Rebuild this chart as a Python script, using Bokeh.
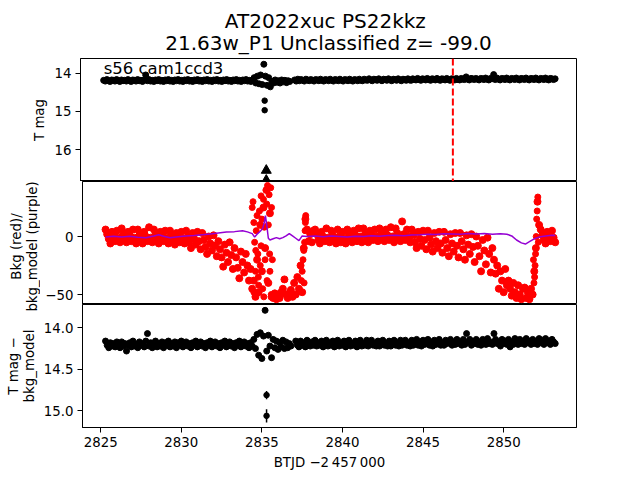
import math
from bokeh.plotting import figure
from bokeh.models import Range1d, FixedTicker, Span, Label, NumeralTickFormatter
from bokeh.layouts import column, row
from bokeh.embed import file_html
from bokeh.resources import INLINE

nan = float("nan")
FONT = "DejaVu Sans"

btjd = [
    2825.3, 2825.4, 2825.5, 2825.6, 2825.7, 2825.8, 2825.9, 2826.0, 2826.1, 2826.2,
    2826.3, 2826.4, 2826.5, 2826.6, 2826.7, 2826.8, 2826.9, 2827.0, 2827.1, 2827.2,
    2827.3, 2827.4, 2827.5, 2827.6, 2827.7, 2827.8, 2827.9, 2828.0, 2828.1, 2828.2,
    2828.3, 2828.4, 2828.5, 2828.6, 2828.7, 2828.8, 2828.9, 2829.0, 2829.1, 2829.2,
    2829.3, 2829.4, 2829.5, 2829.6, 2829.7, 2829.8, 2829.9, 2830.0, 2830.1, 2830.2,
    2830.3, 2830.4, 2830.5, 2830.6, 2830.7, 2830.8, 2830.9, 2831.0, 2831.1, 2831.2,
    2831.3, 2831.4, 2831.5, 2831.6, 2831.7, 2831.8, 2831.9, 2832.0, 2832.1, 2832.2,
    2832.3, 2832.4, 2832.5, 2832.6, 2832.7, 2832.8, 2832.9, 2833.0, 2833.1, 2833.2,
    2833.3, 2833.4, 2833.5, 2833.6, 2833.7, 2833.8, 2833.9, 2834.0, 2834.1, 2834.2,
    2834.3, 2834.4, 2834.5, 2834.6, 2834.7, 2834.8, 2834.9, 2835.0, 2835.1, 2835.2,
    2835.3, 2835.4, 2835.5, 2835.6, 2835.7, 2835.8, 2835.9, 2836.0, 2836.1, 2836.2,
    2836.3, 2836.4, 2836.5, 2836.6, 2836.7, 2836.8, 2836.9, 2837.0, 2837.1, 2837.2,
    2837.3, 2837.4, 2837.5, 2837.6, 2837.7, 2837.8, 2837.9, 2838.0, 2838.1, 2838.2,
    2838.3, 2838.4, 2838.5, 2838.6, 2838.7, 2838.8, 2838.9, 2839.0, 2839.1, 2839.2,
    2839.3, 2839.4, 2839.5, 2839.6, 2839.7, 2839.8, 2839.9, 2840.0, 2840.1, 2840.2,
    2840.3, 2840.4, 2840.5, 2840.6, 2840.7, 2840.8, 2840.9, 2841.0, 2841.1, 2841.2,
    2841.3, 2841.4, 2841.5, 2841.6, 2841.7, 2841.8, 2841.9, 2842.0, 2842.1, 2842.2,
    2842.3, 2842.4, 2842.5, 2842.6, 2842.7, 2842.8, 2842.9, 2843.0, 2843.1, 2843.2,
    2843.3, 2843.4, 2843.5, 2843.6, 2843.7, 2843.8, 2843.9, 2844.0, 2844.1, 2844.2,
    2844.3, 2844.4, 2844.5, 2844.6, 2844.7, 2844.8, 2844.9, 2845.0, 2845.1, 2845.2,
    2845.3, 2845.4, 2845.5, 2845.6, 2845.7, 2845.8, 2845.9, 2846.0, 2846.1, 2846.2,
    2846.3, 2846.4, 2846.5, 2846.6, 2846.7, 2846.8, 2846.9, 2847.0, 2847.1, 2847.2,
    2847.3, 2847.4, 2847.5, 2847.6, 2847.7, 2847.8, 2847.9, 2848.0, 2848.1, 2848.2,
    2848.3, 2848.4, 2848.5, 2848.6, 2848.7, 2848.8, 2848.9, 2849.0, 2849.1, 2849.2,
    2849.3, 2849.4, 2849.5, 2849.6, 2849.7, 2849.8, 2849.9, 2850.0, 2850.1, 2850.2,
    2850.3, 2850.4, 2850.5, 2850.6, 2850.7, 2850.8, 2850.9, 2851.0, 2851.1, 2851.2,
    2851.3, 2851.4, 2851.5, 2851.6, 2851.7, 2851.8, 2851.9, 2852.0, 2852.1, 2852.2,
    2852.3, 2852.4, 2852.5, 2852.6, 2852.7, 2852.8, 2852.9, 2853.0, 2853.1, 2853.2,
]

# Panel 1: T mag
tmag = [
    14.19, 14.21, 14.17, 14.20, 14.22, 14.18, 14.19, 14.21, 14.17, 14.20,
    14.22, 14.18, 14.20, 14.19, 14.21, 14.17, 14.20, 14.22, 14.18, 14.19,
    14.21, 14.17, 14.20, 14.19, 14.22, 14.18, 14.05, 14.20, 14.17, 14.21,
    14.19, 14.22, 14.18, 14.20, 14.17, 14.21, 14.19, 14.22, 14.18, 14.20,
    14.17, 14.21, 14.19, 14.22, 14.18, 14.20, 14.17, 14.21, 14.19, 14.22,
    14.18, 14.20, 14.17, 14.21, 14.19, 14.22, 14.18, 14.20, 14.17, 14.21,
    14.19, 14.22, 14.18, 14.20, 14.17, 14.21, 14.19, 14.22, 14.18, 14.20,
    14.17, 14.21, 14.19, 14.22, 14.18, 14.20, 14.17, 14.21, 14.19, 14.22,
    14.18, 14.20, 14.17, 14.21, 14.19, 14.22, 14.18, 14.20, 14.17, 14.21,
    14.19, 14.22, 14.18, 14.12, 14.26, 14.08, 14.28, 14.05, 14.30, 13.77,
    14.08, 14.32, 14.12, 14.36, 14.22, 14.26, 14.18, 14.24, 14.20, 14.26,
    14.18, 14.23, 14.19, 14.25, 14.20, 14.22, nan, nan, 14.18, 14.21,
    14.16, 14.20, 14.17, 14.19, 14.21, 14.16, 14.18, 14.20, 14.17, 14.19,
    14.21, 14.17, 14.18, 14.20, 14.16, 14.19, 14.21, 14.17, 14.18, 14.20,
    14.16, 14.19, 14.21, 14.17, 14.18, 14.20, 14.16, 14.19, 14.21, 14.17,
    14.18, 14.20, 14.16, 14.19, 14.21, 14.17, 14.18, 14.20, 14.16, 14.19,
    14.20, 14.16, 14.18, 14.19, 14.15, 14.18, 14.20, 14.16, 14.17, 14.19,
    14.15, 14.18, 14.20, 14.16, 14.17, 14.19, 14.15, 14.18, 14.20, 14.16,
    14.17, 14.19, 14.15, 14.18, 14.20, 14.16, 14.17, 14.19, 14.15, 14.18,
    14.19, 14.15, 14.17, 14.18, 14.14, 14.17, 14.19, 14.15, 14.16, 14.18,
    14.14, 14.17, 14.19, 14.15, 14.16, 14.18, 14.14, 14.17, 14.19, 14.15,
    14.16, 14.18, 14.14, 14.17, 14.19, 14.15, 14.16, 14.18, 14.14, 14.17,
    14.18, 14.14, 14.16, 14.17, 14.10, 14.16, 14.18, 14.14, 14.15, 14.17,
    14.14, 14.16, 14.18, 14.14, 14.15, 14.17, 14.13, 14.16, 14.18, 14.14,
    14.15, 14.04, 14.17, 14.13, 14.16, 14.18, 14.14, 14.15, 14.17, 14.13,
    14.16, 14.18, 14.14, 14.15, 14.17, 14.13, 14.16, 14.18, 14.14, 14.15,
    14.17, 14.13, 14.16, 14.18, 14.14, 14.15, 14.17, 14.13, 14.16, 14.18,
    14.14, 14.15, 14.17, 14.13, 14.16, 14.18, 14.14, 14.15, 14.17, 14.15,
]
tmag_out_t = [2835.25, 2835.25]
tmag_out = [14.72, 14.97]
lim_t = [2835.35, 2835.35]
lim_mag = [16.54, 16.80]
disc_btjd = 2846.88

# Panel 2: background (red) and background model (purple)
bkg = [
    6, 2, -2, -6, 4, 0, -4, 5, -1, -5,
    7, 2, -2, -5, 4, 1, -4, 6, -1, -6,
    6, 1, -3, -6, 4, 0, -4, 8, -1, -5,
    6, 2, -2, -6, 4, 0, -4, 5, -1, -6,
    5, 1, -3, -7, 3, -1, -5, 4, -2, -6,
    5, 0, -5, -10, 3, -2, -7, 4, -4, -11,
    3, -3, -9, -15, 0, -6, -12, 1, -8, -17,
    -4, -11, -18, -26, -7, -14, -22, -5, -16, -28,
    -10, -18, -27, -36, -13, -22, -31, -15, -25, -38,
    -28, -45, -38, -52, -20, -48, 10, -30, 25, -10,
    40, -40, 20, -52, -53, -49, -54, -50, -53, -48,
    -45, -37, -50, -53, -49, -46, -52, -40, -50, -35,
    -45, -25, -48, -10, 15, 6, -4, 2, -5, 5,
    6, 2, -3, -6, 4, 0, -4, 7, -1, -5,
    5, 1, -3, -6, 6, 0, -5, 4, -2, -6,
    6, 2, -2, -5, 5, 1, -4, 7, 0, -5,
    7, 2, -2, -5, 5, 1, -3, 6, 0, -4,
    7, 3, -2, -4, 6, 1, -3, 8, 0, -5,
    7, 3, -1, -4, 13, 2, -3, 6, 0, -5,
    6, 1, -5, -10, 4, -2, -8, 5, -3, -11,
    5, -1, -7, -13, 3, -4, -10, 4, -6, -14,
    4, -3, -10, -17, 2, -6, -13, 3, -8, -18,
    3, -4, -11, -20, 1, -7, -15, 2, -9, -22,
    0, -8, -17, -30, -3, -12, -24, -1, -15, -31,
    -10, -20, -32, -25, -45, -30, -38, -48, -28, -42,
    -38, -45, -51, -40, -48, -53, -42, -50, -54, -45,
    -44, -53, -48, -54, -45, -50, -30, -10, 30, 10,
    6, 1, -3, -6, 4, 0, -4, 5, -1, -5,
]
bkg_x_t = [
    2834.40, 2834.45, 2834.50, 2834.55, 2834.60, 2834.65, 2834.70, 2834.75, 2834.80, 2834.85,
    2834.90, 2834.95, 2835.00, 2835.05, 2835.10, 2835.15, 2835.20, 2835.25, 2835.30, 2835.35,
    2835.40, 2835.45, 2835.50, 2835.55, 2835.60, 2835.65,
    2834.50, 2834.62, 2834.78, 2834.95, 2835.12, 2835.32, 2835.48, 2835.58,
    2837.45, 2837.50, 2837.55, 2837.60, 2837.62, 2837.65, 2837.68, 2837.70, 2837.72,
    2851.85, 2851.88, 2851.92, 2851.95, 2851.98, 2852.02, 2852.05, 2852.08, 2852.12, 2852.15,
]
bkg_x = [
    25, 30, 12, -5, -30, 5, 18, -15, -42, 22,
    -25, 35, 15, -45, 32, 8, -20, 40, 28, 44,
    10, 36, -30, 42, 25, -20,
    -48, -12, -35, -8, -52, -38, -15, -50,
    -38, -30, -20, -12, -40, -5, 5, 12, 18,
    -20, -40, -35, -25, -15, 0, 15, 22, 34, -5,
]
model_t = [
    2825.3, 2825.8, 2826.3, 2826.8, 2827.3, 2827.8, 2828.3, 2828.6, 2828.9, 2829.3,
    2829.8, 2830.3, 2830.8, 2831.3, 2831.8, 2832.3, 2832.8, 2833.3, 2833.8, 2834.1,
    2834.4, 2834.55, 2834.7, 2834.9, 2835.05, 2835.15, 2835.22, 2835.3, 2835.4, 2835.5,
    2835.7, 2835.9, 2836.1, 2836.3, 2836.5, 2836.7, 2836.9, 2837.1, 2837.3, 2837.5,
    2837.8, 2838.3, 2838.8, 2839.3, 2839.8, 2840.3, 2840.8, 2841.3, 2841.8, 2842.3,
    2842.8, 2843.3, 2843.8, 2844.3, 2844.8, 2845.3, 2845.8, 2846.3, 2846.8, 2847.3,
    2847.8, 2848.3, 2848.8, 2849.3, 2849.8, 2850.2, 2850.5, 2850.8, 2851.1, 2851.35,
    2851.6, 2851.9, 2852.2, 2852.6, 2853.0, 2853.2,
]
bkg_model = [
    -0.5, 0.3, -0.4, 0.2, -0.6, -1.0, 0.4, 1.5, 0.2, -1.0,
    -0.2, 0.4, 0.8, 1.5, 2.2, 3.0, 3.8, 4.2, 5.0, 4.0,
    2.5, -0.5, 2.0, 4.5, 7.0, 12.0, 18.0, 10.0, -1.5, -3.0,
    -2.0, -1.0, -2.0, -1.0, 0.5, 2.5, 0.5, -1.5, -3.5, 0.5,
    0.0, 0.4, -0.3, 0.5, 0.0, -0.5, 0.3, 0.0, 0.6, 0.2,
    0.8, 1.0, 0.6, 1.2, 1.5, 2.0, 1.8, 2.4, 2.2, 2.0,
    2.6, 2.2, 2.5, 2.0, 2.4, 2.0, 0.5, -3.0, -5.5, -6.5,
    -4.5, -2.0, -0.5, 0.5, 1.0, 0.8,
]

# Panel 3: T mag - bkg_model
diff = [
    14.16, 14.21, 14.24, 14.18, 14.22, 14.19, 14.23, 14.17, 14.20, 14.24,
    14.17, 14.22, 14.19, 14.28, 14.21, 14.18, 14.23, 14.16, 14.22, 14.20,
    14.24, 14.17, 14.21, 14.19, 14.23, 14.16, 14.07, 14.22, 14.18, 14.24,
    14.20, 14.16, 14.23, 14.19, 14.22, 14.17, 14.24, 14.18, 14.21, 14.16,
    14.23, 14.19, 14.22, 14.17, 14.24, 14.18, 14.21, 14.16, 14.23, 14.20,
    14.17, 14.22, 14.19, 14.24, 14.18, 14.21, 14.16, 14.23, 14.20, 14.17,
    14.22, 14.19, 14.24, 14.18, 14.21, 14.16, 14.23, 14.20, 14.17, 14.22,
    14.19, 14.24, 14.18, 14.21, 14.16, 14.23, 14.20, 14.17, 14.22, 14.19,
    14.24, 14.18, 14.21, 14.16, 14.23, 14.20, 14.17, 14.22, 14.19, 14.24,
    14.18, 14.22, 14.14, 14.25, 14.08, 14.33, 14.06, 14.37, 14.10, 13.79,
    14.28, 14.09, 14.22, 14.36, 14.14, 14.24, 14.16, 14.26, 14.18, 14.23,
    14.15, 14.25, 14.17, 14.24, 14.19, 14.22, nan, nan, 14.16, 14.21,
    14.23, 14.16, 14.21, 14.18, 14.23, 14.15, 14.20, 14.22, 14.17, 14.21,
    14.15, 14.22, 14.18, 14.21, 14.16, 14.23, 14.19, 14.15, 14.22, 14.18,
    14.21, 14.16, 14.23, 14.18, 14.15, 14.22, 14.19, 14.21, 14.16, 14.23,
    14.18, 14.15, 14.22, 14.19, 14.21, 14.16, 14.23, 14.18, 14.15, 14.22,
    14.19, 14.21, 14.15, 14.22, 14.18, 14.15, 14.21, 14.19, 14.22, 14.16,
    14.22, 14.18, 14.15, 14.21, 14.19, 14.22, 14.16, 14.22, 14.18, 14.15,
    14.21, 14.18, 14.22, 14.15, 14.21, 14.18, 14.15, 14.21, 14.18, 14.22,
    14.15, 14.21, 14.18, 14.14, 14.21, 14.17, 14.22, 14.15, 14.20, 14.18,
    14.14, 14.21, 14.17, 14.22, 14.15, 14.20, 14.17, 14.14, 14.21, 14.18,
    14.21, 14.15, 14.19, 14.17, 14.14, 14.21, 14.17, 14.20, 14.14, 14.19,
    14.17, 14.21, 14.14, 14.20, 14.07, 14.17, 14.14, 14.21, 14.17, 14.19,
    14.14, 14.20, 14.17, 14.21, 14.14, 14.18, 14.20, 14.13, 14.19, 14.17,
    14.20, 14.07, 14.14, 14.19, 14.17, 14.22, 14.14, 14.19, 14.16, 14.20,
    14.14, 14.23, 14.17, 14.20, 14.13, 14.18, 14.20, 14.14, 14.19, 14.16,
    14.20, 14.13, 14.18, 14.16, 14.20, 14.14, 14.19, 14.16, 14.20, 14.13,
    14.18, 14.15, 14.20, 14.13, 14.18, 14.16, 14.20, 14.14, 14.17, 14.19,
]
diff_e_t = [2835.29, 2835.29]
diff_e = [14.81, 15.06]
diff_e_err = [0.05, 0.08]

x_ticks = [2825, 2830, 2835, 2840, 2845, 2850]

# ---------------------------------------------------------------
X0, X1 = 2823.87, 2854.52
xr = Range1d(X0, X1)


def style(p):
    p.outline_line_color = "black"
    p.outline_line_alpha = 1.0
    p.outline_line_width = 1
    p.xgrid.visible = False
    p.ygrid.visible = False
    p.background_fill_color = "white"
    p.border_fill_color = "white"
    for ax in list(p.xaxis) + list(p.yaxis):
        ax.major_tick_out = 5
        ax.major_tick_in = 0
        ax.minor_tick_out = 0
        ax.minor_tick_in = 0
        ax.axis_line_color = "black"
        ax.major_tick_line_color = "black"
        ax.major_label_text_font = FONT
        ax.major_label_text_font_size = "13.33px"
        ax.major_label_text_color = "black"
        ax.major_label_standoff = 4
        ax.axis_label_text_font = FONT
        ax.axis_label_text_font_size = "13.33px"
        ax.axis_label_text_font_style = "normal"
        ax.axis_label_text_color = "black"
        ax.axis_label_standoff = 5


def text_strip(w, h, top, labels, angle=0.0):
    """Blank canvas whose data units are page pixels (y grows downward)."""
    s = figure(width=w, height=h, x_range=Range1d(0, w), y_range=Range1d(top + h, top),
               output_backend="svg", toolbar_location=None, title=None,
               min_border=0, outline_line_color=None)
    s.axis.visible = False
    s.grid.visible = False
    s.background_fill_color = "white"
    s.border_fill_color = "white"
    for txt, lx, ly, size in labels:
        s.add_layout(Label(x=lx, y=ly, text=txt, angle=angle,
                           text_align="center", text_baseline="middle",
                           text_font=FONT, text_font_size=size, text_color="black"))
    return s


# Title block
title_fig = text_strip(640, 58, 0, [
    ("AT2022xuc  PS22kkz", 328, 20.3, "20px"),
    ("21.63w_P1 Unclassified z= -99.0", 328, 42.3, "20px"),
])

# Panel 1
p1 = figure(width=592, height=123, x_range=xr, y_range=Range1d(16.83, 13.62),
            output_backend="svg", toolbar_location=None, title=None,
            min_border_left=32, min_border_right=64, min_border_top=0, min_border_bottom=0)
style(p1)
p1.xaxis.visible = False
p1.yaxis.ticker = FixedTicker(ticks=[14, 15, 16])
p1.scatter(btjd, tmag, size=6, color="black")
p1.scatter(tmag_out_t, tmag_out, size=5.5, color="black")
p1.scatter(lim_t, lim_mag, marker="triangle", size=10, color="black")
p1.add_layout(Span(location=disc_btjd, dimension="height", line_color="red",
                   line_dash="7 3", line_width=2))
p1.add_layout(Label(x=2825.3, y=13.87, text="s56 cam1ccd3", text_font=FONT,
                    text_font_size="16.5px", text_color="black",
                    text_baseline="middle"))
strip1 = text_strip(48, 123, 58, [("T mag", 39, 119.5, "13.33px")], angle=math.pi / 2)

common = dict(width=600, x_range=xr, output_backend="svg", toolbar_location=None,
              title=None, min_border_left=40, min_border_right=64)

# Panel 2
p2 = figure(height=123, y_range=Range1d(-58.6, 47.4), min_border_top=0,
            min_border_bottom=0, **common)
style(p2)
p2.xaxis.visible = False
p2.yaxis.ticker = FixedTicker(ticks=[-50, 0])
p2.yaxis.major_label_overrides = {-50: "\u221250", 0: "0"}
p2.scatter(btjd, bkg, size=7, color="red")
p2.scatter(bkg_x_t, bkg_x, size=6, color="red")
p2.line(model_t, bkg_model, line_color="darkviolet", line_width=1.5)

# Panel 3
p3 = figure(height=176, y_range=Range1d(15.2, 13.72), min_border_top=0,
            min_border_bottom=53, **common)
style(p3)
p3.yaxis.ticker = FixedTicker(ticks=[14.0, 14.5, 15.0])
p3.yaxis.formatter = NumeralTickFormatter(format="0.0")
p3.xaxis.ticker = FixedTicker(ticks=x_ticks)
p3.xaxis.axis_label = "BTJD \u22122\u2009457\u2009000"
p3.scatter(btjd, diff, size=6, color="black")
lo = [m - e for m, e in zip(diff_e, diff_e_err)]
hi = [m + e for m, e in zip(diff_e, diff_e_err)]
p3.segment(diff_e_t, lo, diff_e_t, hi, line_color="black", line_width=1.5)
p3.scatter(diff_e_t, diff_e, size=5.5, color="black")

strip23 = text_strip(40, 299, 181, [
    ("Bkg (red)/", 16, 246, "13.33px"),
    ("bkg_model (purple)", 32, 246, "13.33px"),
    ("T mag \u2212", 13, 365.5, "13.33px"),
    ("bkg_model", 29, 365.5, "13.33px"),
], angle=math.pi / 2)

layout = column(
    title_fig,
    row(strip1, p1, spacing=0),
    row(strip23, column(p2, p3, spacing=0), spacing=0),
    spacing=0,
)
open("out.html", "w").write(file_html(layout, INLINE))
